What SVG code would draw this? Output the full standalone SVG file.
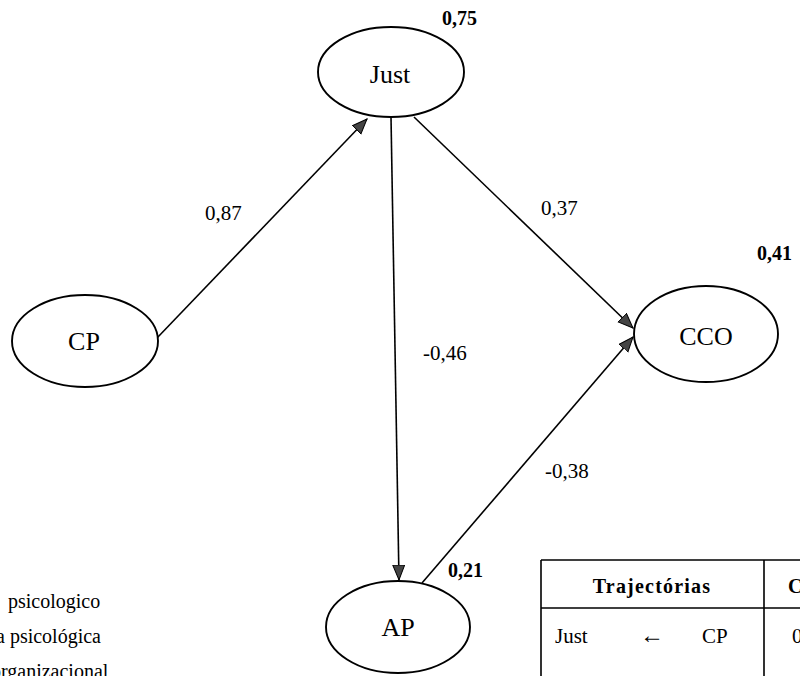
<svg xmlns="http://www.w3.org/2000/svg" width="800" height="676" viewBox="0 0 800 676">
  <style>
    .node ellipse { fill: #fff; stroke: #000; stroke-width: 1.9; }
    .lbl { font-family: "Liberation Serif", "Times New Roman", serif; fill: #000; }
    .nodetxt { font-size: 26px; text-anchor: middle; }
    .coef { font-size: 21px; }
    .r2 { font-size: 20px; font-weight: bold; }
    .edge { stroke: #000; stroke-width: 1.6; fill: none; marker-end: url(#arrow); }
    .grid { stroke: #000; stroke-width: 1.6; fill: none; }
  </style>
  <defs>
    <marker id="arrow" markerUnits="userSpaceOnUse" markerWidth="17" markerHeight="13" refX="15" refY="6" orient="auto">
      <path d="M0,0 L15,6 L0,12 Z" fill="#444" stroke="#000" stroke-width="1"/>
    </marker>
  </defs>
  <rect width="800" height="676" fill="#fff"/>

  <!-- connectors -->
  <g id="connectors">
    <line class="edge" x1="157" y1="338" x2="367" y2="119"/>
    <line class="edge" x1="391" y1="117" x2="399" y2="580"/>
    <line class="edge" x1="414" y1="117" x2="633" y2="328"/>
    <line class="edge" x1="422" y1="583" x2="633" y2="337"/>
    <text class="lbl coef" x="205" y="220">0,87</text>
    <text class="lbl coef" x="541" y="215">0,37</text>
    <text class="lbl coef" x="423" y="360">-0,46</text>
    <text class="lbl coef" x="545" y="478">-0,38</text>
  </g>

  <!-- nodes -->
  <g id="node-just" class="node">
    <ellipse cx="391" cy="72" rx="73" ry="45"/>
    <text class="lbl nodetxt" x="390" y="83">Just</text>
    <text class="lbl r2" x="442" y="25">0,75</text>
  </g>
  <g id="node-cp" class="node">
    <ellipse cx="85" cy="341" rx="73" ry="46"/>
    <text class="lbl nodetxt" x="84" y="350">CP</text>
  </g>
  <g id="node-cco" class="node">
    <ellipse cx="706" cy="334" rx="72" ry="48"/>
    <text class="lbl nodetxt" x="706" y="345">CCO</text>
    <text class="lbl r2" x="757" y="260">0,41</text>
  </g>
  <g id="node-ap" class="node">
    <ellipse cx="398" cy="627" rx="72" ry="46"/>
    <text class="lbl nodetxt" x="398" y="636">AP</text>
    <text class="lbl r2" x="448" y="577">0,21</text>
  </g>

  <!-- legend, running off the left edge -->
  <g id="legend" class="lbl" font-size="20">
    <text x="8" y="608">psicologico</text>
    <text x="-4" y="643">a psicológica</text>
    <text x="-9" y="678">organizacional</text>
  </g>

  <!-- path table, running off the right and bottom edges -->
  <g id="table">
    <path class="grid" d="M541,560 H800 M541,560 V676 M541,608 H800 M764,560 V676"/>
    <text class="lbl" x="652" y="593" font-size="20" font-weight="bold" letter-spacing="1.2" text-anchor="middle">Trajectórias</text>
    <text class="lbl" x="788" y="593" font-size="20" font-weight="bold">C</text>
    <text class="lbl" x="555" y="643" font-size="21">Just</text>
    <text class="lbl" x="640" y="643" font-size="24">←</text>
    <text class="lbl" x="702" y="643" font-size="21">CP</text>
    <text class="lbl" x="792" y="643" font-size="21">0</text>
  </g>
</svg>
